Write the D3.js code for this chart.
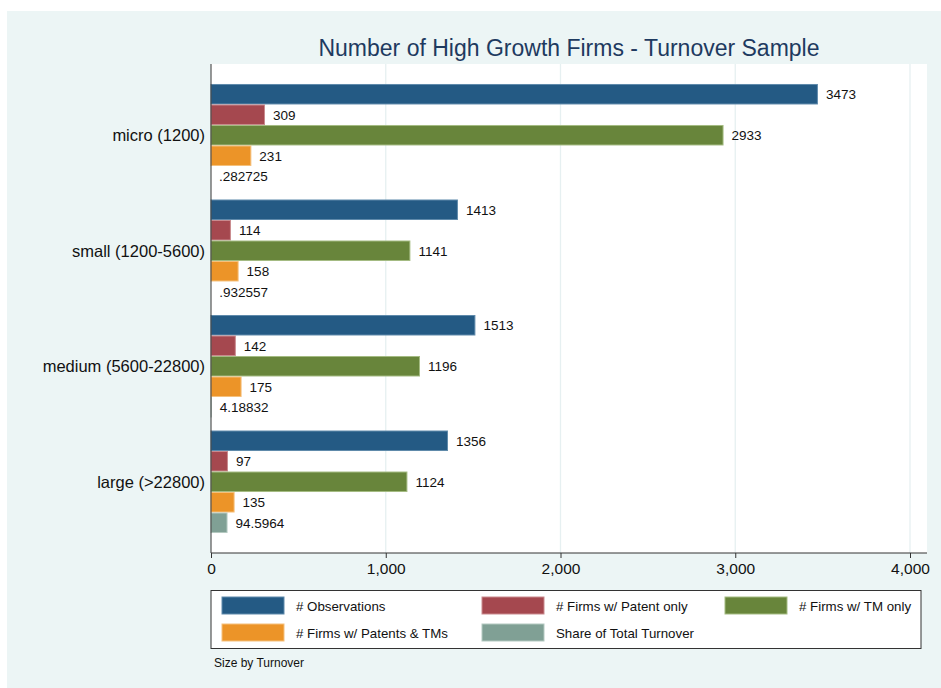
<!DOCTYPE html>
<html><head><meta charset="utf-8">
<script src="https://cdn.jsdelivr.net/npm/d3@7"></script>
<style>body{margin:0;background:#fff}svg{display:block;font-family:"Liberation Sans",Arial,sans-serif}</style>
</head><body><svg id="c" width="941" height="688"></svg>
<script>
const categories = ["micro (1200)", "small (1200-5600)", "medium (5600-22800)", "large (>22800)"];
const seriesNames = ["# Observations", "# Firms w/ Patent only", "# Firms w/ TM only", "# Firms w/ Patents & TMs", "Share of Total Turnover"];
const observations = [3473, 1413, 1513, 1356];
const patentOnly = [309, 114, 142, 97];
const tmOnly = [2933, 1141, 1196, 1124];
const patentsAndTMs = [231, 158, 175, 135];
const shareTurnover = [0.282725, 0.932557, 4.18832, 94.5964];
const shareLabels = [".282725", ".932557", "4.18832", "94.5964"];
const xTicks = [0, 1000, 2000, 3000, 4000];
const colors = ["#245a84", "#a5484f", "#68853b", "#ec9428", "#80a095"];
const strokes = ["#5f8aab", "#c98a8e", "#a4bb82", "#f5c07c", "#b4c9c1"];

const seriesValues = [observations, patentOnly, tmOnly, patentsAndTMs, shareTurnover];
const svg = d3.select("#c");
svg.append("rect").attr("x", 7).attr("y", 11).attr("width", 934).attr("height", 677).attr("fill", "#ecf5f5");

const L = 211, R = 927, T = 64, B = 553;
svg.append("rect").attr("x", L).attr("y", T).attr("width", R - L).attr("height", B - T).attr("fill", "#fff");

const x = d3.scaleLinear().domain([0, 4000]).range([L, 910]);
const y = d3.scaleBand().domain(categories).range([T, B]).paddingInner(0.1126).paddingOuter(0.173);
const ys = d3.scaleBand().domain(d3.range(5)).range([0, y.bandwidth()]);

// grid
svg.append("g").selectAll("line").data(xTicks.slice(1)).join("line")
  .attr("x1", d => x(d)).attr("x2", d => x(d)).attr("y1", T).attr("y2", B)
  .attr("stroke", "#e6f0f1").attr("stroke-width", 1.3);

// bars
categories.forEach((cat, i) => {
  const g = svg.append("g").attr("transform", `translate(0,${y(cat)})`);
  seriesValues.forEach((vals, s) => {
    const v = vals[i];
    const w = x(v) - x(0);
    g.append("rect").attr("x", x(0)).attr("y", ys(s) + 0.5)
      .attr("width", Math.max(w - 0.5, 0)).attr("height", ys.bandwidth() - 1)
      .attr("fill", colors[s]).attr("stroke", strokes[s]).attr("stroke-width", 1);
    const lbl = s === 4 ? shareLabels[i] : String(v);
    g.append("text").attr("x", x(v) + 8).attr("y", ys(s) + ys.bandwidth() / 2 + 4.8)
      .attr("font-size", 13.5).attr("fill", "#111").text(lbl);
  });
  svg.append("text").attr("x", 205).attr("y", y(cat) + y.bandwidth() / 2 + 6)
    .attr("text-anchor", "end").attr("font-size", 16.5).attr("fill", "#111").text(cat);
});

// axes
svg.append("line").attr("x1", L).attr("x2", L).attr("y1", T).attr("y2", B).attr("stroke", "#333").attr("stroke-width", 1);
const xAxis = d3.axisBottom(x).tickValues(xTicks).tickFormat(d3.format(",")).tickSize(5).tickPadding(5);
const ax = svg.append("g").attr("transform", `translate(0,${B})`).call(xAxis);
ax.select(".domain").attr("d", `M${L},0H${R}`).attr("stroke", "#333");
ax.selectAll(".tick line").attr("stroke", "#333");
ax.selectAll("text").attr("font-size", 15.5).attr("fill", "#111").attr("font-family", '"Liberation Sans",Arial,sans-serif');

// title
svg.append("text").attr("x", (L + R) / 2).attr("y", 56).attr("text-anchor", "middle")
  .attr("font-size", 23).attr("fill", "#1e3a60").text("Number of High Growth Firms - Turnover Sample");

// legend
svg.append("rect").attr("x", 211).attr("y", 590.5).attr("width", 710).attr("height", 58)
  .attr("fill", "#fff").attr("stroke", "#333").attr("stroke-width", 1);
const colX = [222, 482, 725];
seriesNames.forEach((n, s) => {
  const cx = colX[s % 3], ry = 597 + Math.floor(s / 3) * 27;
  svg.append("rect").attr("x", cx).attr("y", ry).attr("width", 62).attr("height", 17)
    .attr("fill", colors[s]).attr("stroke", strokes[s]);
  svg.append("text").attr("x", cx + 74).attr("y", ry + 14).attr("font-size", 13.3).attr("fill", "#111").text(n);
});
svg.append("text").attr("x", 214).attr("y", 667).attr("font-size", 12).attr("fill", "#111").text("Size by Turnover");
</script></body></html>
